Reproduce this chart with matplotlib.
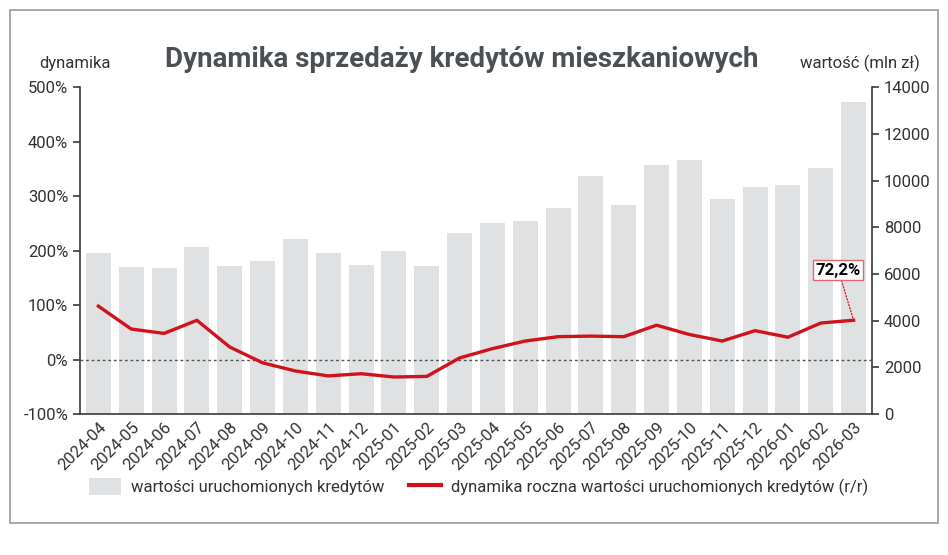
import matplotlib.pyplot as plt
from matplotlib.patches import Rectangle, Patch
from matplotlib.lines import Line2D
import numpy as np

plt.rcParams['font.family'] = ['Roboto', 'DejaVu Sans']

# data
months = ["2024-04", "2024-05", "2024-06", "2024-07", "2024-08", "2024-09",
          "2024-10", "2024-11", "2024-12", "2025-01", "2025-02", "2025-03",
          "2025-04", "2025-05", "2025-06", "2025-07", "2025-08", "2025-09",
          "2025-10", "2025-11", "2025-12", "2026-01", "2026-02", "2026-03"]
values = [6900, 6300, 6250, 7150, 6320, 6560, 7490, 6880, 6380, 6990, 6320, 7750,
          8170, 8260, 8820, 10180, 8950, 10650, 10880, 9210, 9720, 9830, 10550, 13350]
dynamics = [98, 56, 48, 72, 23, -6, -21, -30, -26, -32, -31, 3,
            20, 34, 42, 43, 42, 63, 46, 34, 53, 41, 67, 72.2]
last_label = "72,2%"

bar_color = "#dfe1e2"
red = "#d0121b"
axis_color = "#3a3a3a"
text_color = "#333333"

fig = plt.figure(figsize=(9.48, 5.55), dpi=100)
ax_r = fig.add_axes([0.0844, 0.254, 0.8354, 0.589])
ax_l = ax_r.twinx()
# left axis (dynamika) should be drawn on the left side
ax_l.yaxis.tick_left()
ax_l.yaxis.set_label_position("left")
ax_r.yaxis.tick_right()

x = np.arange(len(months))
ax_r.bar(x, values, width=0.76, color=bar_color, zorder=1)
ax_r.set_ylim(0, 14000)
ax_r.set_yticks(np.arange(0, 14001, 2000))
ax_r.set_xlim(-0.56, len(months) - 0.44)
ax_r.set_xticks(x)
ax_r.set_xticklabels(months, rotation=45, ha="right", rotation_mode="anchor",
                     fontsize=12, color=text_color)

ax_l.plot(x, dynamics, color=red, linewidth=2.4, zorder=3)
ax_l.axhline(0, color="#555555", linestyle=(0, (2, 2)), linewidth=1.0, zorder=2)
ax_l.set_ylim(-100, 500)
ax_l.set_yticks(np.arange(-100, 501, 100))
ax_l.set_yticklabels([f"{v}%" for v in range(-100, 501, 100)])

for a in (ax_l, ax_r):
    for s in a.spines.values():
        s.set_visible(False)
    a.tick_params(axis="y", labelsize=12, colors=axis_color, labelcolor=text_color,
                  length=5, width=1.2)
ax_r.tick_params(axis="x", length=0, pad=4)
ax_l.spines["left"].set_visible(True)
ax_l.spines["left"].set_color(axis_color)
ax_l.spines["left"].set_linewidth(1.2)
ax_r.spines["right"].set_visible(True)
ax_r.spines["right"].set_color(axis_color)
ax_r.spines["right"].set_linewidth(1.2)
ax_r.spines["bottom"].set_visible(True)
ax_r.spines["bottom"].set_color(axis_color)
ax_r.spines["bottom"].set_linewidth(1.2)

# annotation for the last value
ax_l.annotate(last_label, xy=(x[-1], dynamics[-1]), xytext=(-11, 36),
              textcoords="offset points", ha="center", va="center",
              fontsize=12, fontweight="bold", color="black",
              bbox=dict(boxstyle="square,pad=0.15", fc="white", ec="#e06a70", lw=1),
              arrowprops=dict(arrowstyle="-", color=red, linestyle=(0, (1, 1.5)),
                              lw=0.9, shrinkA=0, shrinkB=0))

# titles
fig.text(0.487, 0.892, "Dynamika sprzedaży kredytów mieszkaniowych", ha="center",
         va="center", fontsize=20, fontweight="bold", color="#4b5055")
fig.text(0.079, 0.886, "dynamika", ha="center", va="center", fontsize=12,
         color=text_color)
fig.text(0.907, 0.886, "wartość (mln zł)", ha="center", va="center", fontsize=12,
         color=text_color)

# legend
handles = [Patch(facecolor=bar_color, edgecolor="none"),
           Line2D([0], [0], color=red, linewidth=3)]
fig.legend(handles, ["wartości uruchomionych kredytów",
                     "dynamika roczna wartości uruchomionych kredytów (r/r)"],
           loc="center", bbox_to_anchor=(0.505, 0.122), ncol=2, frameon=False,
           fontsize=12, handlelength=1.9, handleheight=1.2, handletextpad=0.6,
           columnspacing=1.5, labelcolor=text_color)

# outer frame
fig.patches.append(Rectangle((10 / 948, 1 - 523 / 555), 928 / 948, 513 / 555,
                             transform=fig.transFigure, fill=False,
                             edgecolor="#9a9a9a", linewidth=1.2))

fig.savefig("out.png", dpi=100)
